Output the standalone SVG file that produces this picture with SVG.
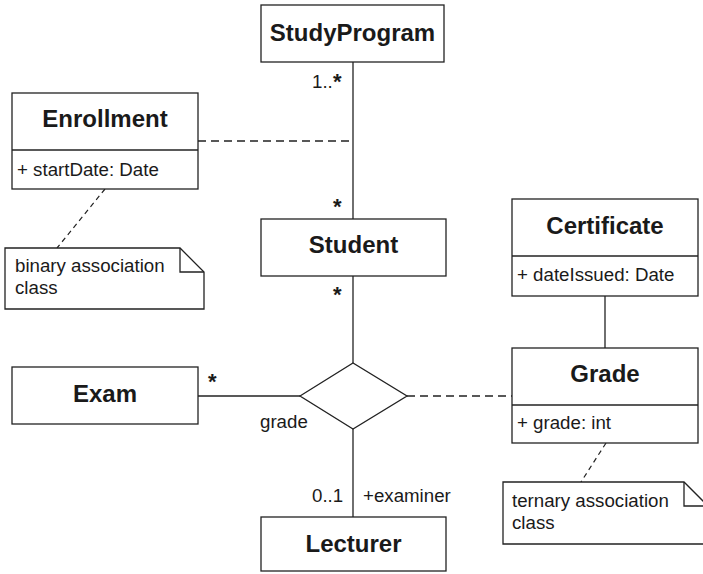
<svg xmlns="http://www.w3.org/2000/svg" width="703" height="574" viewBox="0 0 703 574">
<style>
.box{fill:#fff;stroke:#222;stroke-width:1.3}
.ln{fill:none;stroke:#222;stroke-width:1.3}
.dash{fill:none;stroke:#222;stroke-width:1.3;stroke-dasharray:8,5}
.ndash{fill:none;stroke:#222;stroke-width:1.2;stroke-dasharray:5,4}
.cn{font-family:"Liberation Sans",Arial,sans-serif;font-weight:bold;font-size:24px;fill:#1a1a1a;text-anchor:middle}
.t{font-family:"Liberation Sans",Arial,sans-serif;font-size:18.7px;fill:#1a1a1a}
.st{font-family:"Liberation Sans",Arial,sans-serif;font-weight:bold;font-size:22px;fill:#1a1a1a}
</style>
<rect width="703" height="574" fill="#fff"/>
<g id="connectors">
<line class="ln" x1="353" y1="62" x2="353" y2="219"/>
<line class="ln" x1="353" y1="276" x2="353" y2="363"/>
<line class="ln" x1="353" y1="429" x2="353" y2="517"/>
<line class="ln" x1="198" y1="396" x2="300" y2="396"/>
<line class="ln" x1="605" y1="296" x2="605" y2="348"/>
<line class="dash" x1="198" y1="141" x2="353" y2="141"/>
<line class="dash" x1="407" y1="396" x2="512" y2="396"/>
<line class="ndash" x1="105" y1="189" x2="57" y2="248"/>
<line class="ndash" x1="606" y1="443" x2="581" y2="482"/>
<text class="t" x="312" y="88">1..</text>
<text class="st" x="333" y="89">*</text>
<text class="st" x="333" y="214">*</text>
<text class="st" x="333" y="302">*</text>
<text class="st" x="208" y="389">*</text>
<text class="t" x="260" y="428">grade</text>
<text class="t" x="312" y="502">0..1</text>
<text class="t" x="363" y="502">+examiner</text>
</g>
<g id="assoc">
<polygon class="box" points="300,396 353,363 407,396 353,429"/>
</g>
<g id="StudyProgram">
<rect class="box" x="261" y="5" width="183" height="57"/>
<text class="cn" x="352.5" y="41">StudyProgram</text>
</g>
<g id="Enrollment">
<rect class="box" x="12" y="93" width="186" height="96"/>
<line class="ln" x1="12" y1="150" x2="198" y2="150"/>
<text class="cn" x="105" y="127">Enrollment</text>
<text class="t" x="17" y="176">+ startDate: Date</text>
</g>
<g id="Student">
<rect class="box" x="261" y="219" width="185" height="57"/>
<text class="cn" x="353.5" y="253">Student</text>
</g>
<g id="Certificate">
<rect class="box" x="512" y="199" width="186" height="97"/>
<line class="ln" x1="512" y1="256" x2="698" y2="256"/>
<text class="cn" x="605" y="234">Certificate</text>
<text class="t" x="517" y="281">+ dateIssued: Date</text>
</g>
<g id="Grade">
<rect class="box" x="512" y="348" width="186" height="95"/>
<line class="ln" x1="512" y1="405" x2="698" y2="405"/>
<text class="cn" x="605" y="382">Grade</text>
<text class="t" x="517" y="429">+ grade: int</text>
</g>
<g id="Exam">
<rect class="box" x="12" y="367" width="186" height="57"/>
<text class="cn" x="105" y="402">Exam</text>
</g>
<g id="Lecturer">
<rect class="box" x="261" y="517" width="185" height="54"/>
<text class="cn" x="353.5" y="552">Lecturer</text>
</g>
<g id="note1">
<path class="box" d="M5,248 H180 L204,272 V309 H5 Z"/>
<path class="ln" d="M180,248 V272 H204"/>
<text class="t" x="15" y="272">binary association</text>
<text class="t" x="15" y="294">class</text>
</g>
<g id="note2">
<path class="box" d="M503,482 H684 L708,506 V544 H503 Z"/>
<path class="ln" d="M684,482 V506 H708"/>
<text class="t" x="512" y="507">ternary association</text>
<text class="t" x="512" y="529">class</text>
</g>
</svg>
